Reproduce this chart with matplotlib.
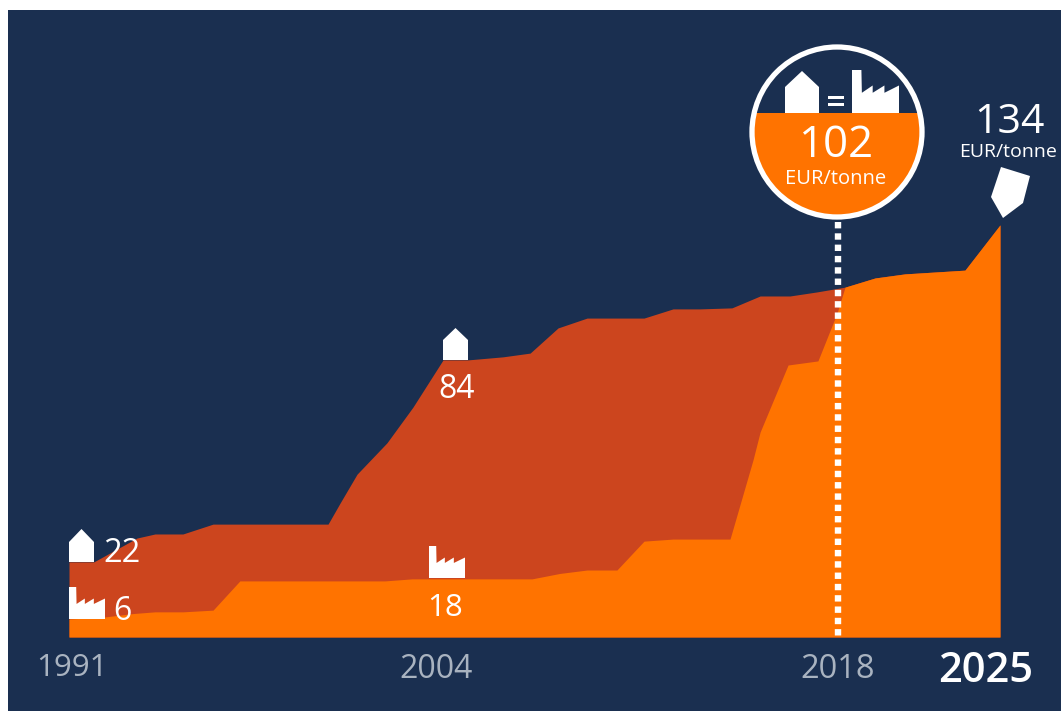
import matplotlib
matplotlib.use("Agg")
import matplotlib.pyplot as plt
from matplotlib.patches import Circle, Polygon, Rectangle

# The original's vertical drawing scale is stylised.
years_top = [1991.00, 1991.91, 1993.48, 1994.14, 1995.16, 1996.26, 2000.46, 2000.90, 2001.52,
             2002.61, 2003.56, 2004.66, 2005.57, 2006.85, 2007.84, 2008.86, 2009.92, 2012.00,
             2013.06, 2014.04, 2015.21, 2016.24, 2017.33, 2018.32, 2019.34, 2020.44, 2021.53,
             2023.72, 2025.00]
household = [22.1, 22.1, 29.1, 30.3, 30.3, 33.2, 33.2, 39.4, 47.9,
             57.1, 67.6, 81.5, 81.5, 82.4, 83.5, 90.9, 93.8, 93.8,
             96.5, 96.5, 96.8, 100.3, 100.3, 101.5, 102.9, 105.6, 106.8,
             107.9, 121.2]
years_bottom = [1991.00, 1992.31, 1993.34, 1994.14, 1995.16, 1996.26, 1997.24, 2002.54, 2003.53,
                2007.91, 2008.93, 2009.92, 2011.01, 2012.00, 2013.06, 2015.14, 2015.98, 2016.24,
                2017.26, 2018.35, 2019.05, 2019.34, 2020.44, 2021.53, 2023.72, 2025.00]
industry = [5.3, 5.9, 6.9, 7.4, 7.4, 7.9, 16.5, 16.5, 17.1,
            17.1, 18.7, 19.7, 19.7, 28.2, 28.8, 28.8, 52.1, 60.3,
            80.0, 81.2, 95.3, 102.9, 105.6, 106.8, 107.9, 121.2]
tick_labels = ["1991", "2004", "2018", "2025"]
labels_household = ["22", "84"]
labels_industry = ["6", "18"]
label_equal = "102"
label_final = "134"
unit = "EUR/tonne"

NAVY, RED, ORANGE = "#1A2F50", "#CC451E", "#FF7300"
W, H = 1061, 711
plt.rcParams["font.family"] = ["Open Sans", "DejaVu Sans"]
fig = plt.figure(figsize=(W / 100, H / 100), dpi=100, facecolor="white")

bg = fig.add_axes([0, 0, 1, 1], zorder=-1)
bg.set_xlim(0, W)
bg.set_ylim(H, 0)
bg.axis("off")
bg.add_patch(Rectangle((8, 10), W - 8, H - 10, facecolor=NAVY, edgecolor="none"))

ax = fig.add_axes([69 / W, (H - 637) / H, 931 / W, 627 / H], zorder=1)
ax.patch.set_visible(False)
ax.set_xlim(1991, 2025)
ax.set_ylim(0, 627 / 3.4)
ax.axis("off")
ax.fill_between(years_top, household, 0, color=RED, lw=0)
ax.fill_between(years_bottom, industry, 0, color=ORANGE, lw=0)

# Overlay in pixel units for annotation furniture
ov = fig.add_axes([0, 0, 1, 1], zorder=2)
ov.patch.set_visible(False)
ov.set_xlim(0, W)
ov.set_ylim(H, 0)
ov.axis("off")


def house(x0, x1, bottom, shoulder, peak):
    ov.add_patch(Polygon([(x0, bottom), (x0, shoulder), ((x0 + x1) / 2, peak), (x1, shoulder), (x1, bottom)],
                         closed=True, fc="white", ec="none", zorder=6))


def factory(x0, x1, bottom, top):
    w, h = x1 - x0, bottom - top
    rel = [(0, 0), (.2, 0), (.21, .53), (.44, .36), (.44, .53), (.69, .36), (.69, .53), (1, .36), (1, 1), (0, 1)]
    ov.add_patch(Polygon([(x0 + a * w, top + b * h) for a, b in rel], closed=True, fc="white", ec="none", zorder=6))


house(69, 94, 562, 542, 529)
house(443, 468, 360, 340, 328)
factory(69, 105, 619, 587)
factory(429, 465, 578, 546)

# Dotted marker line
ov.plot([838, 838], [222, 637], color="white", lw=4.6, linestyle=(0, (1, 0.77)),
        dash_capstyle="butt", zorder=4)

# Break-even badge
cx, cy, r = 837, 132, 85
disc = Circle((cx, cy), r, fc=NAVY, ec="none", zorder=5)
ov.add_patch(disc)
lower = Rectangle((cx - r, 113), 2 * r, 120, fc=ORANGE, ec="none", zorder=5.1)
ov.add_patch(lower)
lower.set_clip_path(Circle((cx, cy), r, transform=ov.transData))
ov.add_patch(Circle((cx, cy), r, fc="none", ec="white", lw=3.8, zorder=5.5))
house(785, 819, 113, 87, 71)
factory(852, 899, 113, 70)
ov.add_patch(Rectangle((828, 96), 16, 2.6, fc="white", ec="none", zorder=6))
ov.add_patch(Rectangle((828, 103), 16, 2.6, fc="white", ec="none", zorder=6))

# Final-year marker
ov.add_patch(Polygon([(1001, 167), (1030, 176), (1023, 203), (1003, 218), (991, 197)],
                     closed=True, fc="white", ec="none", zorder=6))


def label(x, y, s, size, color="white", weight="normal"):
    ov.text(x, y, s, fontsize=size, color=color, fontweight=weight, ha="center", va="center_baseline", zorder=7)


label(122, 549, labels_household[0], 23.5)
label(122, 608, labels_industry[0], 23)
label(457, 386, labels_household[1], 23)
label(445, 605, labels_industry[1], 22.5)
GREY = "#A9B3C0"
label(72, 665, tick_labels[0], 22.5, GREY)
label(436, 665, tick_labels[1], 23, GREY)
label(838, 665, tick_labels[2], 23.5, GREY)
label(986, 666, tick_labels[3], 30, "white", "semibold")
label(837, 140, label_equal, 31.5)
label(836, 177, unit, 14.5)
label(1009, 118, label_final, 29.5)
label(1008, 150, unit, 14)

fig.savefig("out.png", dpi=100, facecolor="white")
